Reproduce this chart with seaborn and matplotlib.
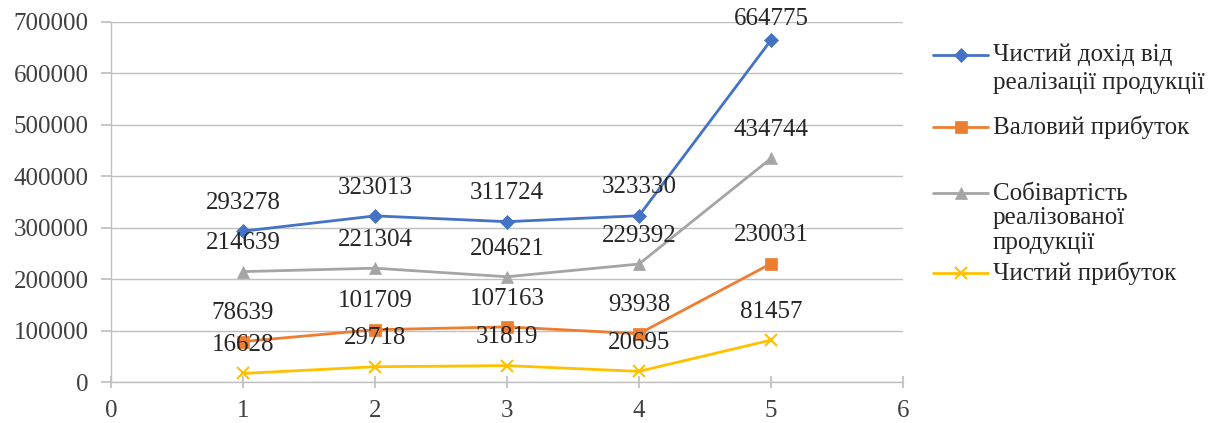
import matplotlib
matplotlib.use("Agg")
import matplotlib.pyplot as plt
from matplotlib.lines import Line2D
import seaborn as sns
import pandas as pd

periods = [1, 2, 3, 4, 5]
net_revenue = [293278, 323013, 311724, 323330, 664775]
gross_profit = [78639, 101709, 107163, 93938, 230031]
cost_of_sales = [214639, 221304, 204621, 229392, 434744]
net_profit = [16628, 29718, 31819, 20695, 81457]

series_names = [
    "Чистий дохід від\nреалізації продукції",
    "Валовий прибуток",
    "Собівартість\nреалізованої\nпродукції",
    "Чистий прибуток",
]
series_values = [net_revenue, gross_profit, cost_of_sales, net_profit]
colors = ["#4472C4", "#ED7D31", "#A5A5A5", "#FFC000"]
markers = ["D", "s", "^", "x"]
msizes = [7, 9, 9, 8]

rows = []
for name, vals in zip(series_names, series_values):
    for p, v in zip(periods, vals):
        rows.append({"period": p, "value": v, "series": name})
df = pd.DataFrame(rows)

sns.set_theme(style="white")
plt.rcParams["font.family"] = ["Liberation Serif", "DejaVu Serif"]

W, H = 1231, 423
fig = plt.figure(figsize=(W / 100, H / 100), dpi=100)
ax = fig.add_axes([111 / W, 1 - 382 / H, (903 - 111) / W, (382 - 22) / H])

for name, col, mk, ms in zip(series_names, colors, markers, msizes):
    sub = df[df["series"] == name]
    sns.lineplot(data=sub, x="period", y="value", color=col, marker=mk,
                 markersize=ms, markeredgecolor=col,
                 markeredgewidth=1.5 if mk == "x" else 0.5,
                 linewidth=2.0, ax=ax, legend=False)

ax.set_xlim(0, 6)
ax.set_ylim(0, 700000)

# data labels (kept inside the chart area near the top, as the original does)
for name, vals in zip(series_names, series_values):
    for p, v in zip(periods, vals):
        off = 11 if v > 0.9 * ax.get_ylim()[1] else 16
        ax.annotate(f"{v}", (p, v), xytext=(0, off), textcoords="offset points",
                    ha="center", va="baseline", fontsize=18, color="#262626")

ax.set_xticks(range(0, 7))
ax.set_yticks(range(0, 700001, 100000))
ax.set_xlabel("")
ax.set_ylabel("")
ax.grid(axis="y", color="#BFBFBF", linewidth=1.0)
ax.grid(axis="x", visible=False)
ax.set_axisbelow(True)
for s in ["top", "right"]:
    ax.spines[s].set_visible(False)
for s in ["left", "bottom"]:
    ax.spines[s].set_color("#BFBFBF")
    ax.spines[s].set_linewidth(1.0)
ax.tick_params(axis="x", which="both", direction="inout", length=8, color="#BFBFBF",
               pad=9, labelsize=18, labelcolor="#404040", bottom=True)
ax.tick_params(axis="y", which="both", direction="out", length=7, color="#BFBFBF",
               pad=9, labelsize=18, labelcolor="#404040", left=True)

# legend drawn manually to mimic first-line alignment of multi-line entries
legend_y = [55, 127, 193, 273]
line_steps = [28, 28, 25, 25]
for name, col, mk, ms, y, step in zip(series_names, colors, markers, msizes,
                                      legend_y, line_steps):
    yf = 1 - y / H
    fig.add_artist(Line2D([933 / W, 988 / W], [yf, yf], color=col, linewidth=2.0,
                          transform=fig.transFigure))
    fig.add_artist(Line2D([960.5 / W], [yf], color=col, marker=mk, markersize=ms,
                          markeredgecolor=col,
                          markeredgewidth=1.5 if mk == "x" else 0.5,
                          linestyle="none", transform=fig.transFigure))
    for i, line in enumerate(name.split("\n")):
        fig.text(993 / W, 1 - (y + i * step) / H, line, ha="left", va="center",
                 fontsize=18, color="#262626", transform=fig.transFigure)

fig.savefig("out.png", dpi=100)
